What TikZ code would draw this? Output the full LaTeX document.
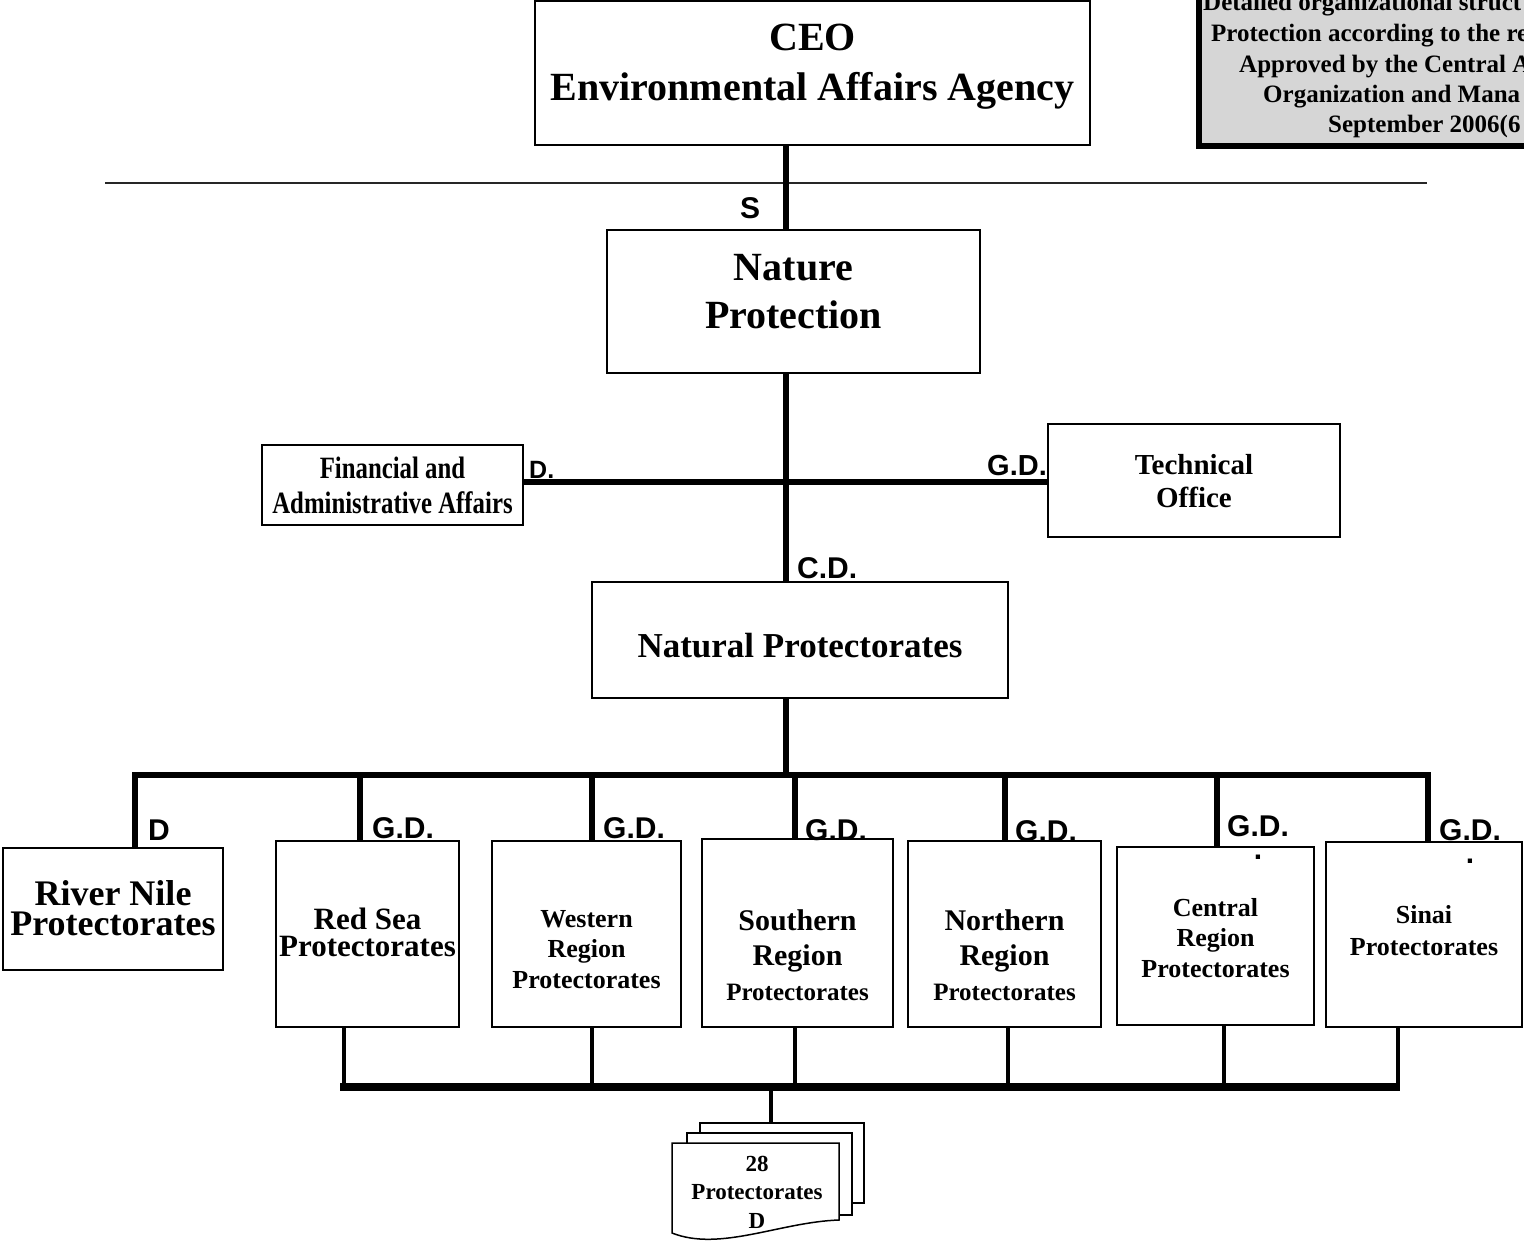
\documentclass[tikz,border=0pt]{standalone}
\usepackage{fontspec}
\setmainfont{Liberation Serif}
\newfontfamily\tagfont{Liberation Sans}
\newfontfamily\narrowfont[FakeStretch=0.8]{Liberation Serif}
\usetikzlibrary{positioning,calc}
\newcommand{\fsz}[2]{\fontsize{#1}{#2}\selectfont}
\newcommand{\lifted}[2]{\raisebox{#1pt}[0pt][0pt]{\makebox[0pt]{\parbox[t]{22cm}{\centering #2}}}}
\tikzstyle{every unit} = []
\tikzstyle{unit} = [rectangle, draw, black, line width=1.5pt, fill=white,
inner sep=0pt, font=\bfseries,
every unit]
\tikzstyle{page} = [draw, black, line width=1.5pt, fill=white]
\tikzstyle{note box} = [rectangle, draw, black, line width=6pt, fill=black!16, inner sep=0pt]
\tikzstyle{note line} = [inner sep=0pt, anchor=base west, font=\bfseries\fsz{25}{25}]
\tikzstyle{tag} = [inner sep=0pt, anchor=base west, font=\tagfont\bfseries\fsz{30}{30}]
\tikzstyle{link} = [draw, line width=6.5pt]
\tikzstyle{sublink} = [draw, line width=4pt]
\tikzstyle{separator} = [draw, black!85, line width=2pt]

\begin{document}
\begin{tikzpicture}[x=1pt, y=-1pt]
	\useasboundingbox (0,0) rectangle (1524,1242);
	\clip (0,0) rectangle (1524,1242);

	% note in the corner, cut by the page edge
	\node[note box, minimum width=362pt, minimum height=166pt] (note) at (1380,63) {};
	\node[note line] (note1) at (1203,10) {Detailed organizational struct};
	\node[note line] (note2) at (1211,41) {Protection according to the re};
	\node[note line] (note3) at (1239,72) {Approved by the Central A};
	\node[note line] (note4) at (1263,102) {Organization and Mana};
	\node[note line] (note5) at (1328,132) {September 2006(6};

	\coordinate (ruleL) at (105,183);
	\coordinate (ruleR) at (1427,183);
	\draw[separator] (ruleL) -- (ruleR);

	\node[unit, minimum width=555pt, minimum height=144pt, font=\bfseries\fsz{40}{50}] (ceo) at (812.5,73) {\lifted{23}{CEO\\Environmental Affairs Agency}};
	\node[unit, minimum width=373pt, minimum height=143pt, font=\bfseries\fsz{40}{48}] (nature) at (793.5,301.5) {\lifted{21.5}{Nature\\Protection}};
	\node[unit, minimum width=261pt, minimum height=80pt, font=\narrowfont\bfseries\fsz{31}{35}] (finance) at (392.5,485) {\lifted{7}{Financial and\\Administrative Affairs}};
	\node[unit, minimum width=292pt, minimum height=113pt, font=\bfseries\fsz{29}{33}] (tech) at (1194,480.5) {\lifted{6.5}{Technical\\Office}};
	\node[unit, minimum width=416pt, minimum height=116pt, font=\bfseries\fsz{35}{40}] (natural) at (800,640) {\lifted{-17}{Natural Protectorates}};

	\node[unit, minimum width=220pt, minimum height=122pt, font=\bfseries\fsz{36}{30}] (river) at (113,909) {\lifted{4}{River Nile\\Protectorates}};
	\node[unit, minimum width=183pt, minimum height=186pt, font=\bfseries\fsz{31}{27}] (redsea) at (367.5,934) {\lifted{5}{Red Sea\\Protectorates}};
	\node[unit, minimum width=189pt, minimum height=186pt, font=\bfseries\fsz{26}{30.5}] (western) at (586.5,934) {\lifted{7}{Western\\Region\\Protectorates}};
	\node[unit, minimum width=191pt, minimum height=188pt, font=\bfseries\fsz{30}{35}] (southern) at (797.5,933) {\lifted{3}{Southern\\Region\\{\fsz{25}{35}Protectorates}}};
	\node[unit, minimum width=193pt, minimum height=186pt, font=\bfseries\fsz{30}{35}] (northern) at (1004.5,934) {\lifted{4}{Northern\\Region\\{\fsz{25}{35}Protectorates}}};
	\node[unit, minimum width=197pt, minimum height=178pt, font=\bfseries\fsz{26}{30.5}] (central) at (1215.5,936) {\lifted{20}{Central\\Region\\Protectorates}};
	\node[unit, minimum width=196pt, minimum height=185pt, font=\bfseries\fsz{26}{32}] (sinai) at (1424,934.5) {\lifted{11.5}{Sinai\\Protectorates}};

	% stack of protectorate sheets
	\node[unit, minimum width=164pt, minimum height=80pt] (pageback) at (782,1163) {};
	\node[unit, minimum width=165pt, minimum height=82pt] (pagemid) at (769.5,1174) {};
	\draw[page] (672,1143) -- (839,1143) -- (839,1220) .. controls (780,1222) and (720,1252) .. (672,1233) -- cycle;
	\node[inner sep=0pt, font=\bfseries\fsz{23}{28.5}] (docs) at (757,1171) {\lifted{0}{28\\Protectorates\\D}};

	% main line
	\coordinate (spine) at (786,775);
	\coordinate (hub) at (786,482);
	\draw[link] (ceo.south -| spine) -- (nature.north -| spine);
	\draw[link] (nature.south -| spine) -- (natural.north -| spine);
	\draw[link] (natural.south -| spine) -- (spine);
	\draw[link] (finance.east |- hub) -- (tech.west |- hub);

	% upper bus
	\coordinate (d1) at (135,775);
	\coordinate (d2) at (360,775);
	\coordinate (d3) at (592,775);
	\coordinate (d4) at (795,775);
	\coordinate (d5) at (1005,775);
	\coordinate (d6) at (1217,775);
	\coordinate (d7) at (1428,775);
	\draw[link] (d1 |- river.north) -- (d1) -- (d7) -- (d7 |- sinai.north);
	\draw[link] (d2) -- (d2 |- redsea.north);
	\draw[link] (d3) -- (d3 |- western.north);
	\draw[link] (d4) -- (d4 |- southern.north);
	\draw[link] (d5) -- (d5 |- northern.north);
	\draw[link] (d6) -- (d6 |- central.north);

	% lower bus
	\coordinate (b1) at (344,1087);
	\coordinate (b2) at (592,1087);
	\coordinate (b3) at (795,1087);
	\coordinate (b4) at (1008,1087);
	\coordinate (b5) at (1224,1087);
	\coordinate (b6) at (1398,1087);
	\coordinate (bd) at (771,1087);
	\draw[sublink] (redsea.south -| b1) -- (b1);
	\draw[sublink] (western.south -| b2) -- (b2);
	\draw[sublink] (southern.south -| b3) -- (b3);
	\draw[sublink] (northern.south -| b4) -- (b4);
	\draw[sublink] (central.south -| b5) -- (b5);
	\draw[sublink] (sinai.south -| b6) -- (b6);
	\draw[link, line width=8pt] (340,1087) -- (1400,1087);
	\draw[sublink] (bd) -- (bd |- pageback.north);

	% grade tags
	\node[tag] (tagS) at (740,218) {S};
	\node[tag, font=\tagfont\bfseries\fsz{25}{25}] (tagFin) at (529,478) {D.};
	\node[tag, font=\tagfont\bfseries\fsz{29}{29}] (tagTech) at (987,475) {G.D.};
	\node[tag] (tagCD) at (797,578) {C.D.};
	\node[tag] (tagRiver) at (148,840) {D};
	\node[tag] (tagRed) at (372,838) {G.D.};
	\node[tag] (tagWest) at (603,838) {G.D.};
	\node[tag] (tagSouth) at (805,840) {G.D.};
	\node[tag] (tagNorth) at (1015,841) {G.D.};
	\node[tag, anchor=center, font=\tagfont\bfseries\fsz{30}{23.5}] (tagCentral) at (1258,836) {\lifted{0}{G.D.\\.}};
	\node[tag, anchor=center, font=\tagfont\bfseries\fsz{30}{23.5}] (tagSinai) at (1470,840) {\lifted{0}{G.D.\\.}};
\end{tikzpicture}
\end{document}
